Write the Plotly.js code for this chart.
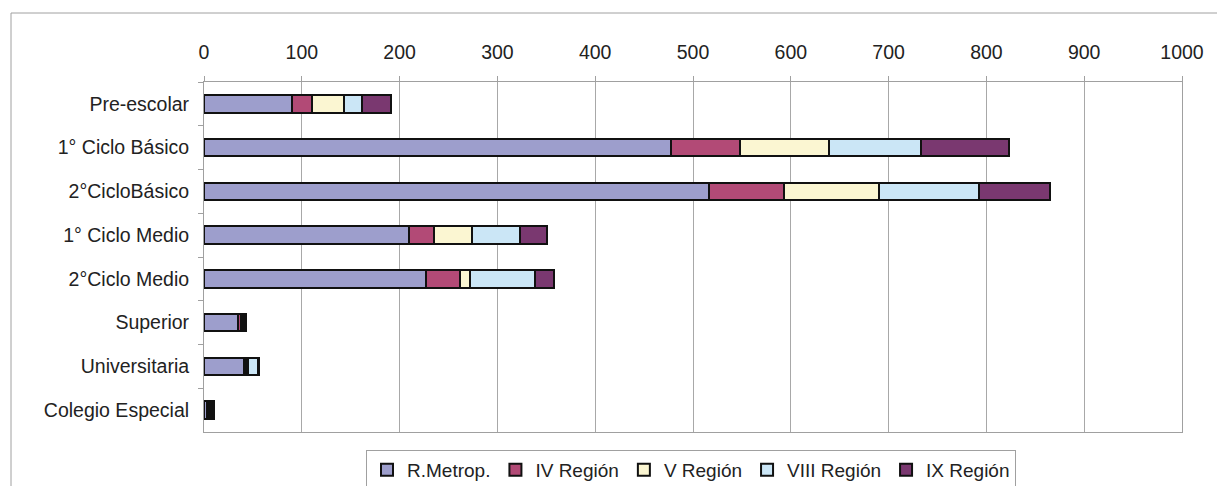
<!DOCTYPE html>
<html>
<head>
<meta charset="utf-8">
<script src="https://cdn.plot.ly/plotly-3.0.1.min.js"></script>
<style>html,body{margin:0;padding:0;background:#fff;overflow:hidden;}#chart{width:1217px;height:486px;}</style>
</head>
<body>
<div id="chart"></div>
<script>
const categories = ["Pre-escolar", "1° Ciclo Básico", "2°CicloBásico", "1° Ciclo Medio", "2°Ciclo Medio", "Superior", "Universitaria", "Colegio Especial"];
const seriesNames = ["R.Metrop.", "IV Región", "V Región", "VIII Región", "IX Región"];
const rMetrop = [90, 477, 516, 210, 227, 35, 41, 3];
const ivRegion = [20, 71, 77, 25, 35, 3, 2, 2];
const vRegion = [33, 91, 97, 39, 10, 2, 2, 2];
const viiiRegion = [19, 94, 102, 49, 66, 2, 10, 1];
const ixRegion = [29, 90, 73, 28, 20, 1, 1, 2];
const xTicks = [0, 100, 200, 300, 400, 500, 600, 700, 800, 900, 1000];

const seriesValues = [rMetrop, ivRegion, vRegion, viiiRegion, ixRegion];
const colors = ["#9d9ecc", "#b24a76", "#fbf6d2", "#cbe6f6", "#7a3870"];

const traces = seriesValues.map((vals, i) => ({
  type: "bar",
  orientation: "h",
  name: seriesNames[i],
  y: categories,
  x: vals,
  marker: {color: colors[i], line: {color: "#111", width: 2}}
}));

const W = 978, H = 350, L = 204, T = 82;
function px(x){ return (x - L) / W; }
function py(y){ return (T + H - y) / H; }

const layout = {
  width: 1217, height: 486,
  margin: {l: L, r: 1217 - L - W, t: T, b: 486 - T - H, autoexpand: false},
  paper_bgcolor: "#fff", plot_bgcolor: "#fff",
  barmode: "stack",
  bargap: 0.6,
  font: {family: "Liberation Sans, Arial, sans-serif", size: 19, color: "#222"},
  xaxis: {
    side: "top", range: [0, 1000], tickvals: xTicks, ticktext: xTicks.map(String),
    showgrid: true, gridcolor: "#a8a8a8", gridwidth: 1,
    showline: true, linecolor: "#a0a0a0", linewidth: 1, mirror: true,
    ticks: "outside", ticklen: 5, tickcolor: "#a0a0a0",
    ticklabelstandoff: 9, zeroline: false, fixedrange: true,
    tickfont: {size: 19.5}, automargin: false
  },
  yaxis: {
    type: "category", autorange: "reversed",
    showline: true, linecolor: "#a0a0a0", linewidth: 1, mirror: true,
    ticks: "outside", ticklen: 5, tickcolor: "#a0a0a0", tickson: "boundaries",
    ticklabelstandoff: 10, showgrid: false, fixedrange: true,
    tickfont: {size: 19.5}, automargin: false
  },
  legend: {
    orientation: "h", xref: "container", yref: "container",
    x: 691 / 1217, xanchor: "center", y: (486 - 450) / 486, yanchor: "top",
    bordercolor: "#a0a0a0", borderwidth: 1, bgcolor: "#fff",
    font: {size: 19}, traceorder: "normal", itemwidth: 30, tracegroupgap: 0
  },
  shapes: [{
    type: "rect", xref: "paper", yref: "paper",
    x0: px(11), x1: px(1400), y0: py(560), y1: py(13),
    line: {color: "#a0a0a0", width: 1}, fillcolor: "rgba(0,0,0,0)", layer: "below"
  }],
  showlegend: true
};

Plotly.newPlot("chart", traces, layout, {displayModeBar: false, staticPlot: true});
</script>
</body>
</html>
